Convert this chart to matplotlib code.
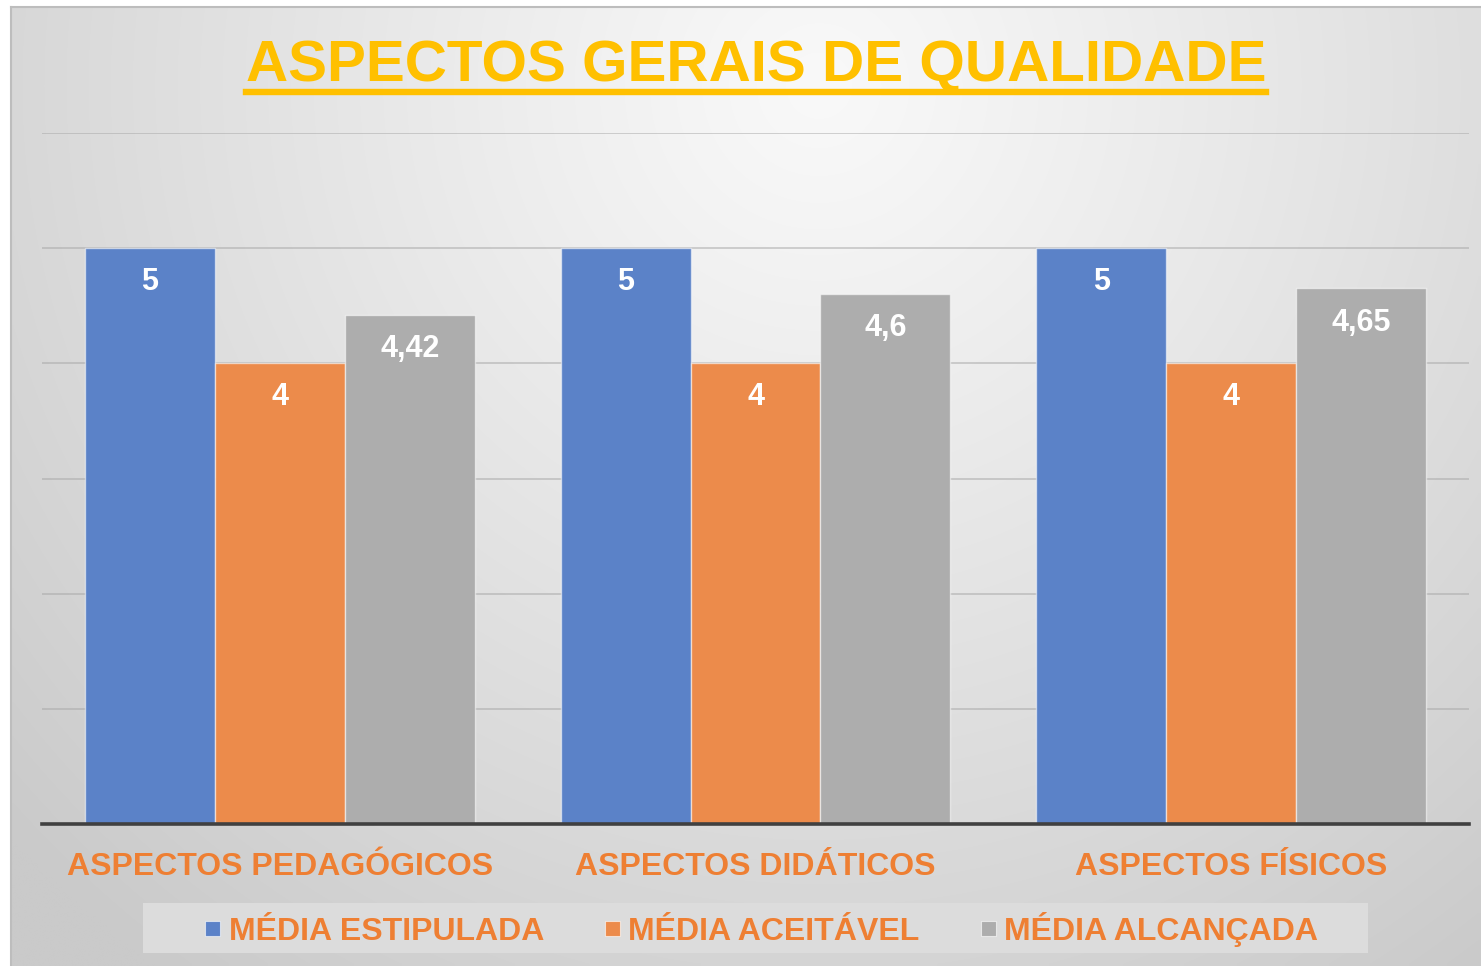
import numpy as np
import matplotlib
matplotlib.use("Agg")
import matplotlib.pyplot as plt
from matplotlib.patches import Rectangle
from matplotlib.lines import Line2D

plt.rcParams['font.family'] = ['Liberation Sans', 'DejaVu Sans']

title = "ASPECTOS GERAIS DE QUALIDADE"
categories = ["ASPECTOS PEDAGÓGICOS", "ASPECTOS DIDÁTICOS", "ASPECTOS FÍSICOS"]
series_names = ["MÉDIA ESTIPULADA", "MÉDIA ACEITÁVEL", "MÉDIA ALCANÇADA"]
media_estipulada = [5, 5, 5]
media_aceitavel = [4, 4, 4]
media_alcancada = [4.42, 4.6, 4.65]
series_values = [media_estipulada, media_aceitavel, media_alcancada]
colors = ["#5B82C8", "#EC8B4B", "#ADADAD"]
text_orange = "#EE7F33"
title_color = "#FFC000"

W, H = 1481, 966
fig = plt.figure(figsize=(W / 100, H / 100), dpi=100)
fig.patch.set_facecolor("white")

# background gradient panel (chart area)
x0, y0 = 11, 7  # pixel from left/top
bg = fig.add_axes([x0 / W, 0, 1 - x0 / W, 1 - y0 / H], zorder=0)
nx, ny = 300, 200
gx = np.linspace(0, 1, nx)
gy = np.linspace(0, 1, ny)
X, Y = np.meshgrid(gx, gy)
cx, cy = 0.55, 0.08
d = np.sqrt(((X - cx) * 1.0) ** 2 + ((Y - cy) * 0.65) ** 2)
d = np.clip(d / 0.75, 0, 1)
val = 249 - (249 - 202) * d ** 1.1
img = np.dstack([val, val, val]) / 255.0
bg.imshow(img, aspect='auto', extent=[0, 1, 1, 0], interpolation='bilinear')
bg.set_xlim(0, 1)
bg.set_ylim(1, 0)
bg.set_xticks([])
bg.set_yticks([])
for s in ["top", "left"]:
    bg.spines[s].set_color("#BDBDBD")
    bg.spines[s].set_linewidth(1.5)
for s in ["bottom", "right"]:
    bg.spines[s].set_visible(False)

# main axes
left = 42 / W
right = 1469 / W
bottom = 1 - 824 / H
top = 1 - 133 / H
ax = fig.add_axes([left, bottom, right - left, top - bottom], zorder=2)
ax.patch.set_alpha(0)
ax.set_xlim(-0.5, len(categories) - 0.5)
ax.set_ylim(0, 6)
ax.set_yticks(np.arange(0, 7, 1))
ax.set_yticklabels([])
ax.tick_params(axis='both', length=0)
ax.grid(axis='y', color='#A8A8A8', alpha=0.6, linewidth=1.2)
ax.set_axisbelow(True)
for s in ["top", "left", "right"]:
    ax.spines[s].set_visible(False)
ax.spines["bottom"].set_color("#404040")
ax.spines["bottom"].set_linewidth(2.6)
ax.spines["bottom"].set_zorder(5)

bw = 130 / 476
xpos = np.arange(len(categories))
for i, (vals, col) in enumerate(zip(series_values, colors)):
    xs = xpos + (i - 1) * bw
    bars = ax.bar(xs, vals, width=bw, color=col, edgecolor=(1, 1, 1, 0.55),
                  linewidth=1.0, zorder=3)
    for xx, v in zip(xs, vals):
        lab = ("%g" % v).replace(".", ",")
        ax.annotate(lab, xy=(xx, v), xytext=(0, -24.5), textcoords='offset points',
                    ha='center', va='center', color='white', fontsize=22,
                    fontweight='bold', zorder=4)

ax.set_xticks(xpos)
ax.set_xticklabels([])
for xx, c in zip(xpos, categories):
    ax.annotate(c, xy=(xx, 0), xycoords=('data', 'axes fraction'),
                xytext=(0, -28.5), textcoords='offset points', ha='center',
                va='center_baseline', color=text_orange, fontsize=23, fontweight='bold')

# title with underline
t = fig.text(756 / W, 1 - 81 / H, title, ha='center', va='baseline',
             color=title_color, fontsize=42, fontweight='bold', zorder=5)
fig.canvas.draw()
bb = t.get_window_extent()
uy = 1 - 91.5 / H
fig.add_artist(Line2D([bb.x0 / W, bb.x1 / W], [uy, uy], color=title_color,
                      linewidth=4.6, transform=fig.transFigure, zorder=5))

# legend box
lx0, lx1 = 143, 1368
ly0, ly1 = 903, 953
fig.add_artist(Rectangle((lx0 / W, 1 - ly1 / H), (lx1 - lx0) / W, (ly1 - ly0) / H,
                         transform=fig.transFigure, facecolor='#DCDCDC',
                         edgecolor='none', zorder=3))
marker_x = [205, 605, 981]
text_x = [229, 628, 1004]
for mx, tx, name, col in zip(marker_x, text_x, series_names, colors):
    fig.add_artist(Rectangle((mx / W, 1 - 936 / H), 15 / W, 15 / H,
                             transform=fig.transFigure, facecolor=col,
                             edgecolor=(1, 1, 1, 0.6), linewidth=0.8, zorder=4))
    fig.text(tx / W, 1 - 940 / H, name, ha='left', va='baseline', color=text_orange,
             fontsize=23, fontweight='bold', zorder=4)

fig.savefig("out.png", dpi=100)
